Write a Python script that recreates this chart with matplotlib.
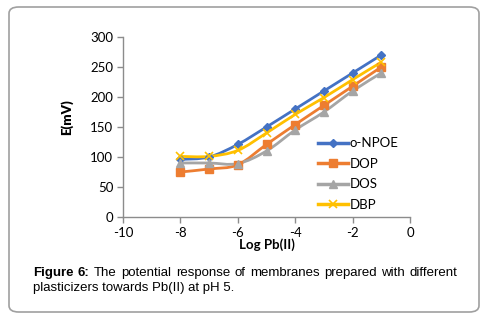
import numpy as np
import matplotlib.pyplot as plt
from matplotlib.path import Path
from matplotlib.patches import PathPatch, FancyBboxPatch
from matplotlib.lines import Line2D

# ----------------------------------------------------
# DATA
# ----------------------------------------------------
log_pb = [-8, -7, -6, -5, -4, -3, -2, -1]
onpoe = [96, 100, 121, 150, 180, 210, 240, 270]
dop = [75, 80, 87, 121, 154, 186, 218, 250]
dos = [90, 90, 89, 110, 145, 175, 210, 240]
dbp = [101, 101, 111, 140, 171, 199, 229, 258]

series = [
    ("o-NPOE", onpoe, "#4472C4", "D", 4.5),
    ("DOP", dop, "#ED7D31", "s", 6),
    ("DOS", dos, "#A5A5A5", "^", 6),
    ("DBP", dbp, "#FFC000", "x", 6),
]

caption_bold = "Figure 6:"
caption_line1 = "The potential response of membranes prepared with different"
caption_line2 = "plasticizers towards Pb(II) at pH 5."


def smooth_path(x, y):
    # excel-like smoothed line as cubic bezier segments through the data points
    pts = np.column_stack([x, y]).astype(float)
    n = len(pts)
    verts = [pts[0]]
    codes = [Path.MOVETO]
    for i in range(n - 1):
        p0 = pts[i - 1] if i > 0 else pts[i]
        p1 = pts[i]
        p2 = pts[i + 1]
        p3 = pts[i + 2] if i + 2 < n else pts[i + 1]
        c1 = p1 + (p2 - p0) / 6.0
        c2 = p2 - (p3 - p1) / 6.0
        verts += [c1, c2, p2]
        codes += [Path.CURVE4] * 3
    return Path(verts, codes)


plt.rcParams["font.family"] = ["Lato", "DejaVu Sans"]
plt.rcParams["axes.unicode_minus"] = False
fig = plt.figure(figsize=(4.87, 3.19), dpi=100)

# rounded frame round the figure
frame = FancyBboxPatch((9 / 487, 7 / 319), 470 / 487, 305 / 319,
                       boxstyle="round,pad=0,rounding_size=0.02",
                       transform=fig.transFigure, fc="none", ec="#a0a0a0", lw=1.2)
fig.patches.append(frame)

ax = fig.add_axes([123 / 487, 102 / 319, 287 / 487, 180 / 319])
ax.set_xlim(-10, 0)
ax.set_ylim(0, 300)
ax.set_xticks(range(-10, 1, 2))
ax.set_yticks(range(0, 301, 50))
ax.patch.set_alpha(0)

for name, vals, col, mk, ms in series:
    ax.add_patch(PathPatch(smooth_path(log_pb, vals), fc="none", ec=col, lw=2.0, zorder=2))
    ax.plot(log_pb, vals, ls="none", marker=mk, ms=ms, color=col,
            mew=1.2 if mk == "x" else 1, zorder=3)

for s in ["top", "right"]:
    ax.spines[s].set_visible(False)
for s in ["left", "bottom"]:
    ax.spines[s].set_color("#8c8c8c")
    ax.spines[s].set_linewidth(1)
ax.tick_params(colors="#8c8c8c", length=4, width=1, labelsize=9.5, labelcolor="black", pad=3)

ax.set_xlabel("Log Pb(II)", fontsize=9.5, fontweight="bold", labelpad=0)
ax.set_ylabel("E(mV)", fontsize=9.5, fontweight="heavy")
ax.yaxis.set_label_coords(-0.174, 0.556)

handles = [Line2D([0], [0], color=c, lw=2.5, marker=m, ms=s, mew=1.2 if m == "x" else 1)
           for _, _, c, m, s in series]
ax.legend(handles, [s[0] for s in series], loc="upper left",
          bbox_to_anchor=(0.655, 0.48), frameon=False, fontsize=9.5,
          handlelength=2.3, handletextpad=0.15, labelspacing=0.65, borderpad=0)

# caption, first line justified
renderer = fig.canvas.get_renderer()
x_left, x_right = 33 / 487, 457 / 487
y1, y2 = 1 - 276 / 319, 1 - 291 / 319
cap_font = dict(family="Liberation Sans", fontsize=9.5)

words = [(w, "bold") for w in caption_bold.split()] + [(w, "normal") for w in caption_line1.split()]
texts = []
for w, fw in words:
    t = fig.text(0, y1, w, fontweight=fw, va="baseline", **cap_font)
    texts.append(t)
widths = [t.get_window_extent(renderer).width / fig.bbox.width for t in texts]
gap = (x_right - x_left - sum(widths)) / (len(words) - 1)
xpos = x_left
for t, w in zip(texts, widths):
    t.set_x(xpos)
    xpos += w + gap

fig.text(x_left, y2, caption_line2, va="baseline", **cap_font)

fig.savefig("out.png", dpi=100)
